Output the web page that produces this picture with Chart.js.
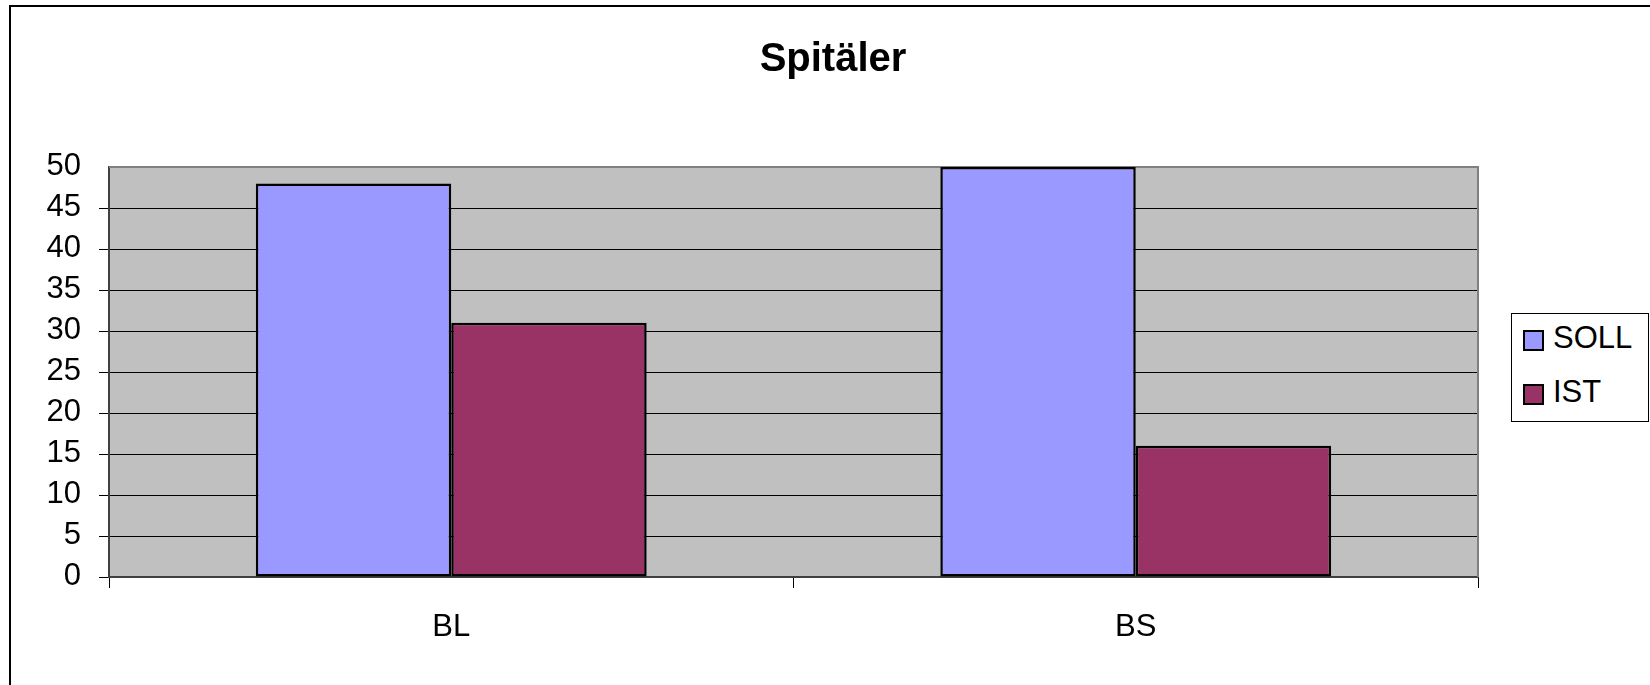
<!DOCTYPE html>
<html>
<head>
<meta charset="utf-8">
<title>Spitäler</title>
<script src="https://cdn.jsdelivr.net/npm/chart.js@4.4.0/dist/chart.umd.min.js"></script>
<style>
  html, body { margin: 0; padding: 0; background: #fff; overflow: hidden; }
  body { width: 1650px; height: 685px; position: relative; font-family: "Liberation Sans", Arial, sans-serif; color: #000; }
  #frame { position: absolute; left: 9px; top: 5px; width: 1700px; height: 720px; border: 2px solid #000; }
  #chart { position: absolute; left: 0; top: 0; }
  #title { position: absolute; left: 833px; top: 37px; transform: translateX(-50%); font-size: 40px; font-weight: bold; line-height: 40px; white-space: nowrap; }
  #legend { position: absolute; left: 1511px; top: 313px; width: 136px; height: 107px; border: 1px solid #000; background: #fff; }
  .item { position: absolute; left: 11px; height: 32px; display: flex; align-items: center; font-size: 31px; line-height: 32px; white-space: nowrap; }
  .swatch { width: 17px; height: 17px; border: 2.5px solid #000; margin-right: 9px; position: relative; top: 2px; }
</style>
</head>
<body>
<div id="frame"></div>
<canvas id="chart" width="1650" height="685"></canvas>
<div id="title">Spitäler</div>
<div id="legend"></div>

<script>
// chart data
const categories = ['BL', 'BS'];
const seriesNames = ['SOLL', 'IST'];
const sollValues = [48, 50];
const istValues = [31, 16];
const yTickValues = [0, 5, 10, 15, 20, 25, 30, 35, 40, 45, 50];

const seriesColors = ['#9999ff', '#993366'];
const FONT = '"Liberation Sans", Arial, sans-serif';

// grey plot area + grey top/right border like the old Excel look
const plotBackground = {
    id: 'plotBackground',
    beforeDraw(chart) {
        const { ctx, chartArea: a } = chart;
        ctx.save();
        ctx.fillStyle = '#c0c0c0';
        ctx.fillRect(a.left, a.top, a.right - a.left, a.bottom - a.top);
        ctx.restore();
    },
    beforeDatasetsDraw(chart) {
        const { ctx, chartArea: a } = chart;
        ctx.save();
        ctx.strokeStyle = '#808080';
        ctx.lineWidth = 2;
        ctx.beginPath();
        ctx.moveTo(a.left, a.top);
        ctx.lineTo(a.right, a.top);
        ctx.lineTo(a.right, a.bottom);
        ctx.stroke();
        ctx.restore();
    }
};

const ctx = document.getElementById('chart').getContext('2d');
const chart = new Chart(ctx, {
    type: 'bar',
    data: {
        labels: categories,
        datasets: [
            { label: seriesNames[0], data: sollValues, backgroundColor: seriesColors[0] },
            { label: seriesNames[1], data: istValues, backgroundColor: seriesColors[1] }
        ].map(ds => Object.assign(ds, {
            borderColor: '#000',
            borderWidth: 2.5,
            borderSkipped: false,
            categoryPercentage: 0.571,
            barPercentage: 1.0
        }))
    },
    options: {
        responsive: false,
        animation: false,
        devicePixelRatio: 1,
        layout: { padding: { left: 0, top: 167, right: 172, bottom: 0 } },
        plugins: {
            legend: { display: false },
            title: { display: false },
            tooltip: { enabled: false }
        },
        scales: {
            x: {
                offset: true,
                afterFit: scale => { scale.height = 108; },
                grid: {
                    display: true,
                    offset: true,
                    drawOnChartArea: false,
                    drawTicks: true,
                    tickLength: 11,
                    color: '#000',
                    lineWidth: 1
                },
                border: { display: true, color: '#404040', width: 2 },
                ticks: {
                    color: '#000',
                    padding: 21,
                    font: { size: 31, family: FONT }
                }
            },
            y: {
                min: 0,
                max: 50,
                afterFit: scale => { scale.width = 109; },
                afterBuildTicks: scale => {
                    scale.ticks = yTickValues.map(v => ({ value: v }));
                },
                grid: {
                    drawTicks: true,
                    tickLength: 10,
                    lineWidth: 1,
                    color: c => (c.tick && c.tick.value === 50) ? 'rgba(0,0,0,0)' : '#000'
                },
                border: { display: true, color: '#404040', width: 2 },
                ticks: {
                    color: '#000',
                    padding: 18,
                    labelOffset: -1,
                    font: { size: 31, family: FONT }
                }
            }
        }
    },
    plugins: [plotBackground]
});

// legend box drawn as html, items taken from the datasets
const legendEl = document.getElementById('legend');
const legendTops = [8, 62];
chart.data.datasets.forEach((ds, i) => {
    const item = document.createElement('div');
    item.className = 'item';
    item.style.top = legendTops[i] + 'px';
    const sw = document.createElement('span');
    sw.className = 'swatch';
    sw.style.background = ds.backgroundColor;
    const txt = document.createElement('span');
    txt.textContent = ds.label;
    item.appendChild(sw);
    item.appendChild(txt);
    legendEl.appendChild(item);
});
</script>
</body>
</html>
